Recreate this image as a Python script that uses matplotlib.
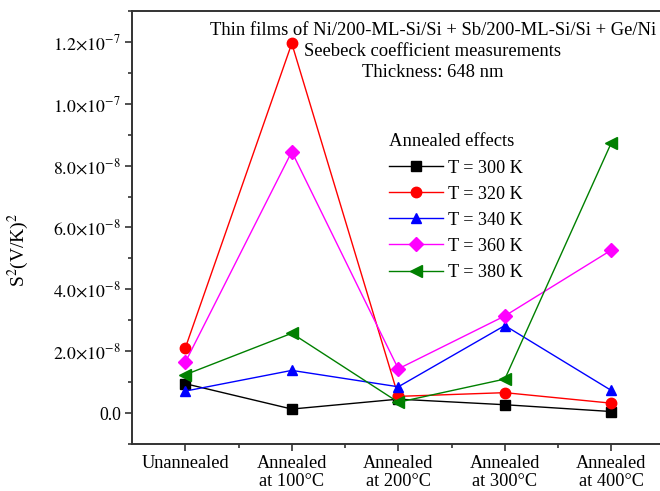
import matplotlib
matplotlib.use("Agg")
import matplotlib.pyplot as plt
from matplotlib.ticker import FixedLocator, MultipleLocator

plt.rcParams['font.family'] = ['Liberation Serif', 'DejaVu Serif']
plt.rcParams['mathtext.fontset'] = 'stix'

categories = ["Unannealed", "Annealed\nat 100°C", "Annealed\nat 200°C",
              "Annealed\nat 300°C", "Annealed\nat 400°C"]
series_labels = ["T = 300 K", "T = 320 K", "T = 340 K", "T = 360 K", "T = 380 K"]
t300 = [0.95e-8, 0.13e-8, 0.45e-8, 0.27e-8, 0.05e-8]
t320 = [2.10e-8, 11.95e-8, 0.54e-8, 0.66e-8, 0.32e-8]
t340 = [0.71e-8, 1.38e-8, 0.85e-8, 2.83e-8, 0.73e-8]
t360 = [1.64e-8, 8.45e-8, 1.43e-8, 3.14e-8, 5.27e-8]
t380 = [1.24e-8, 2.58e-8, 0.35e-8, 1.10e-8, 8.74e-8]
ytick_values = [0.0, 2e-8, 4e-8, 6e-8, 8e-8, 1.0e-7, 1.2e-7]
ytick_labels = ["0.0", r"$2.0{\times}10^{-8}$", r"$4.0{\times}10^{-8}$",
                r"$6.0{\times}10^{-8}$", r"$8.0{\times}10^{-8}$",
                r"$1.0{\times}10^{-7}$", r"$1.2{\times}10^{-7}$"]
title_lines = "Thin films of Ni/200-ML-Si/Si + Sb/200-ML-Si/Si + Ge/Ni\nSeebeck coefficient measurements\nThickness: 648 nm"

series = [t300, t320, t340, t360, t380]
colors = ["black", "red", "blue", "magenta", "green"]
markers = ["s", "o", "^", "D", "<"]
msizes = [7, 7.5, 7.5, 7, 8]

fig = plt.figure(figsize=(6.6, 4.91), dpi=100)
ax = fig.add_axes([0.2, 0.0957, 0.807, 0.882])
x = list(range(len(categories)))
for vals, c, m, ms, lab in zip(series, colors, markers, msizes, series_labels):
    ax.plot(x, vals, color=c, marker=m, markersize=ms, linewidth=1.0, label=lab,
            markeredgecolor=c, markerfacecolor=c)

ax.set_xlim(-0.5, 4.5)
ax.set_ylim(-1e-8, 1.3e-7)
ax.set_xticks(x)
ax.set_xticklabels(categories, fontsize=13.2, linespacing=1.1)
ax.xaxis.set_minor_locator(FixedLocator([0.5, 1.5, 2.5, 3.5]))
ax.set_yticks(ytick_values)
ax.set_yticklabels(ytick_labels, fontsize=12.8)
ax.yaxis.set_minor_locator(MultipleLocator(1e-8))
ax.tick_params(which='major', direction='out', length=5, width=1.2, color='#333333', pad=3)
ax.tick_params(which='minor', direction='out', length=3, width=1.2, color='#333333')
ax.spines['right'].set_visible(False)
for s in ['left', 'bottom', 'top']:
    ax.spines[s].set_linewidth(1.4)
    ax.spines[s].set_color('#333333')

ax.set_ylabel(r"S$^{2}$(V/K)$^{2}$", fontsize=14)
ax.yaxis.set_label_coords(-0.19, 0.448)
ax.text(0.565, 0.974, title_lines, transform=ax.transAxes, ha='center', va='top',
        fontsize=13.4, linespacing=1.3)

leg = ax.legend(title="Annealed effects", loc='upper left', bbox_to_anchor=(0.468, 0.734),
                frameon=False, fontsize=13.1, title_fontsize=13.4, handlelength=3.0,
                handletextpad=0.25, labelspacing=0.5, borderaxespad=0,
                alignment='left')

fig.savefig("out.png", dpi=100)
